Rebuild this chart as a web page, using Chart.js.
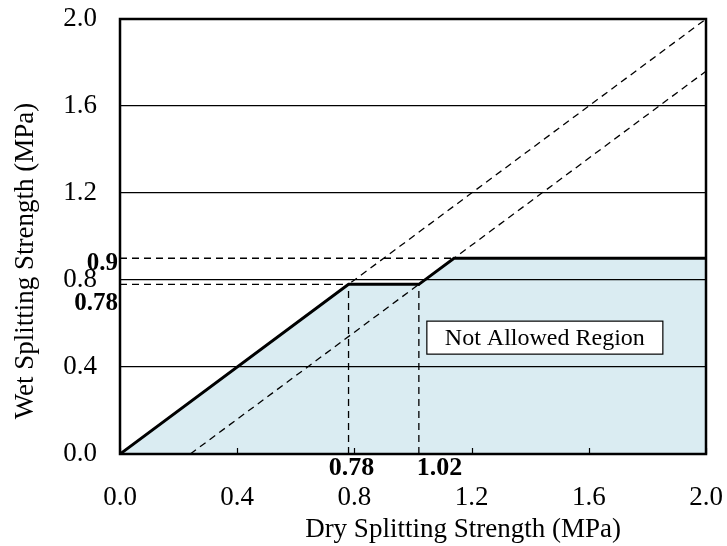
<!DOCTYPE html>
<html>
<head>
<meta charset="utf-8">
<script src="https://cdn.jsdelivr.net/npm/chart.js@4.4.0/dist/chart.umd.min.js"></script>
<style>
    html, body { margin: 0; padding: 0; background: #fff; }
    #wrap { width: 727px; height: 546px; }
</style>
</head>
<body>
<div id="wrap"><canvas id="chart"></canvas></div>
<script>
// axis ticks
const xTicks = [0, 0.4, 0.8, 1.2, 1.6, 2.0];
const yTicks = [0, 0.4, 0.8, 1.2, 1.6, 2.0];

// allowed/not allowed boundary (thick line)
const boundaryX = [0, 0.78, 1.02, 1.14, 2.0];
const boundaryY = [0, 0.78, 0.78, 0.9, 0.9];

// dashed guide lines
const equalLineX = [0, 2.0];
const equalLineY = [0, 2.0];
const offsetLineX = [0.24, 2.0];
const offsetLineY = [0, 1.76];
const level90X = [0, 1.14];
const level90Y = [0.9, 0.9];
const level78X = [0, 0.78];
const level78Y = [0.78, 0.78];
const drop78X = [0.78, 0.78];
const drop78Y = [0, 0.78];
const drop102X = [1.02, 1.02];
const drop102Y = [0, 0.78];

// bold marker labels
const markX = [0.78, 1.02];
const markY = [0.9, 0.78];

const xTitle = "Dry Splitting Strength (MPa)";
const yTitle = "Wet Splitting Strength (MPa)";
const noteText = "Not Allowed Region";
const notePos = [1.45, 0.535];

const SERIF = "'Liberation Serif', 'Times New Roman', serif";

function pts(xs, ys) {
    return xs.map((x, i) => ({ x: x, y: ys[i] }));
}

function dashed(xs, ys) {
    return {
        data: pts(xs, ys),
        showLine: true,
        borderColor: "#000",
        borderWidth: 1.3,
        borderDash: [7, 5],
        pointRadius: 0,
        fill: false,
        order: 2
    };
}

const extrasPlugin = {
    id: "extras",
    afterDraw(chart) {
        const ctx = chart.ctx;
        const xs = chart.scales.x;
        const ys = chart.scales.y;
        const area = chart.chartArea;

        ctx.save();
        // inward tick marks on the x axis
        ctx.strokeStyle = "#000";
        ctx.lineWidth = 1.2;
        xTicks.forEach(v => {
            const px = Math.round(xs.getPixelForValue(v)) + 0.5;
            ctx.beginPath();
            ctx.moveTo(px, area.bottom);
            ctx.lineTo(px, area.bottom - 6);
            ctx.stroke();
        });

        // frame
        ctx.lineWidth = 2.5;
        ctx.strokeRect(area.left, area.top, area.right - area.left, area.bottom - area.top);

        // bold labels
        ctx.fillStyle = "#000";
        ctx.font = "bold 26px " + SERIF;
        ctx.textBaseline = "middle";
        ctx.textAlign = "center";
        ctx.fillText(String(markX[0]), xs.getPixelForValue(markX[0]) + 3, area.bottom + 14);
        ctx.textAlign = "left";
        ctx.fillText(String(markX[1]), xs.getPixelForValue(markX[1]) - 2, area.bottom + 14);
        ctx.font = "bold 25px " + SERIF;
        ctx.textAlign = "right";
        ctx.fillText(String(markY[0]), area.left - 2, ys.getPixelForValue(markY[0]) + 5);
        ctx.fillText(String(markY[1]), area.left - 2, ys.getPixelForValue(markY[1]) + 19);

        // axis titles
        ctx.font = "27px " + SERIF;
        ctx.textAlign = "center";
        ctx.fillText(xTitle, 463, 530);
        ctx.save();
        ctx.translate(26, 261);
        ctx.rotate(-Math.PI / 2);
        ctx.fillText(yTitle, 0, 0);
        ctx.restore();

        // note box
        const cx = xs.getPixelForValue(notePos[0]);
        const cy = ys.getPixelForValue(notePos[1]);
        ctx.font = "24px " + SERIF;
        const w = 236, h = 33;
        ctx.fillStyle = "#fff";
        ctx.fillRect(cx - w / 2, cy - h / 2, w, h);
        ctx.lineWidth = 1.2;
        ctx.strokeRect(cx - w / 2, cy - h / 2, w, h);
        ctx.fillStyle = "#000";
        ctx.textAlign = "center";
        ctx.fillText(noteText, cx, cy + 1);
        ctx.restore();
    }
};

new Chart(document.getElementById("chart"), {
    type: "scatter",
    data: {
        datasets: [
            {
                data: pts(boundaryX, boundaryY),
                showLine: true,
                borderColor: "#000",
                borderWidth: 3,
                pointRadius: 0,
                fill: "origin",
                backgroundColor: "#daecf2",
                order: 1
            },
            dashed(equalLineX, equalLineY),
            dashed(offsetLineX, offsetLineY),
            dashed(level90X, level90Y),
            dashed(level78X, level78Y),
            dashed(drop78X, drop78Y),
            dashed(drop102X, drop102Y)
        ]
    },
    options: {
        responsive: true,
        maintainAspectRatio: false,
        animation: false,
        layout: { padding: { top: 19, right: 21, left: 0, bottom: 0 } },
        scales: {
            x: {
                type: "linear",
                min: 0,
                max: 2,
                afterBuildTicks: s => { s.ticks = xTicks.map(v => ({ value: v })); },
                afterFit: s => {
                    s.height = 92;
                    s.paddingLeft = 0;
                    s.paddingRight = 0;
                },
                grid: { display: false, drawTicks: false },
                border: { display: false },
                ticks: {
                    padding: 28,
                    color: "#000",
                    font: { family: SERIF, size: 27 },
                    callback: v => Number(v).toFixed(1)
                }
            },
            y: {
                type: "linear",
                min: 0,
                max: 2,
                afterBuildTicks: s => { s.ticks = yTicks.map(v => ({ value: v })); },
                afterFit: s => {
                    s.width = 120;
                    s.paddingTop = 0;
                    s.paddingBottom = 0;
                },
                grid: { color: "#000", lineWidth: 1.2, drawTicks: false },
                border: { display: false },
                ticks: {
                    padding: 23,
                    color: "#000",
                    font: { family: SERIF, size: 27 },
                    callback: v => Number(v).toFixed(1)
                }
            }
        },
        plugins: {
            legend: { display: false },
            tooltip: { enabled: false },
            filler: { drawTime: "beforeDraw" }
        }
    },
    plugins: [extrasPlugin]
});
</script>
</body>
</html>
